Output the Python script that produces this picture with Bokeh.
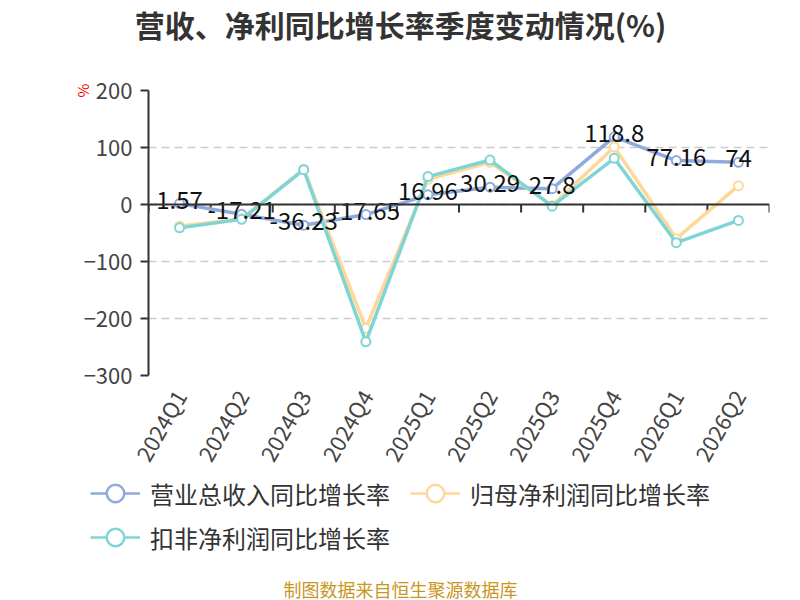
import math
from bokeh.plotting import figure
from bokeh.layouts import column, row
from bokeh.models import (FactorRange, Range1d, Span, Label, Legend, LegendItem,
                          FixedTicker, ColumnDataSource)
from bokeh.embed import file_html
from bokeh.resources import INLINE
from bokeh.core.properties import value

# ---- data ----
quarters = ["2024Q1", "2024Q2", "2024Q3", "2024Q4", "2025Q1", "2025Q2",
            "2025Q3", "2025Q4", "2026Q1", "2026Q2"]
revenue_yoy = [1.57, -17.21, -36.23, -17.65, 16.96, 30.29, 27.8, 118.8, 77.16, 74]
revenue_labels = ["1.57", "-17.21", "-36.23", "-17.65", "16.96", "30.29", "27.8", "118.8", "77.16", "74"]
netprofit_yoy = [-38, -25, 62, -217, 44, 74, -2, 101, -60, 33]
deducted_yoy = [-41, -26, 61, -241, 49, 78, -3, 81, -67, -28]
y_ticks = [-300, -200, -100, 0, 100, 200]
series_names = ["营业总收入同比增长率", "归母净利润同比增长率", "扣非净利润同比增长率"]
title_text = "营收、净利同比增长率季度变动情况(%)"
source_text = "制图数据来自恒生聚源数据库"

colors = ["#8FAADC", "#FFD899", "#7FD5D5"]
FONT = "Noto Sans CJK SC"
W = 800
TOP_H = 80
TOP_OVERLAP = 10
MAIN_TOP, MAIN_FRAME, MAIN_BOTTOM = 20, 285, 104
MAIN_H = MAIN_TOP + MAIN_FRAME + MAIN_BOTTOM
MAIN_OVERLAP = 12
BOT_START = TOP_H - TOP_OVERLAP + MAIN_H - MAIN_OVERLAP
BOT_H = 600 - BOT_START


def blank_fig(h):
    f = figure(width=W, height=h, x_range=Range1d(0, W), y_range=Range1d(0, h),
               output_backend="svg", toolbar_location=None,
               x_axis_location=None, y_axis_location=None, min_border=0)
    f.outline_line_color = None
    f.grid.grid_line_color = None
    f.background_fill_alpha = 0
    f.border_fill_alpha = 0
    return f


# ---- title figure ----
pt = blank_fig(TOP_H)
pt.margin = (0, 0, -TOP_OVERLAP, 0)
pt.add_layout(Label(x=W / 2, y=TOP_H - 23, text=title_text, text_align="center",
                    text_baseline="middle", text_font=FONT, text_font_size="30px",
                    text_font_style="bold", text_color="#333333"))

# ---- main figure ----
p = figure(width=W, height=MAIN_H, x_range=FactorRange(factors=quarters, range_padding=0),
           y_range=Range1d(-300, 200), output_backend="svg", toolbar_location=None,
           min_border_left=148, min_border_right=31, min_border_top=MAIN_TOP,
           min_border_bottom=MAIN_BOTTOM)
p.margin = (0, 0, -MAIN_OVERLAP, 0)
p.outline_line_color = None
p.border_fill_alpha = 0

p.xgrid.grid_line_color = None
p.ygrid.grid_line_color = "#cccccc"
p.ygrid.grid_line_dash = "8 5"
p.ygrid.grid_line_width = 1.5
p.ygrid.ticker = FixedTicker(ticks=y_ticks)

p.yaxis.ticker = FixedTicker(ticks=y_ticks)
p.yaxis.axis_line_color = "#333333"
p.yaxis.axis_line_width = 2
p.yaxis.major_tick_line_color = "#333333"
p.yaxis.major_tick_line_width = 2
p.yaxis.major_tick_out = 8
p.yaxis.major_tick_in = 0
p.yaxis.minor_tick_line_color = None
p.yaxis.major_label_text_font = FONT
p.yaxis.major_label_text_font_size = "22px"
p.yaxis.major_label_text_color = "#444444"
p.yaxis.major_label_standoff = 8
p.yaxis.axis_label = "%"
p.yaxis.axis_label_text_color = "#ff0000"
p.yaxis.axis_label_text_font = FONT
p.yaxis.axis_label_text_font_size = "15px"
p.yaxis.axis_label_text_font_style = "normal"
p.yaxis.axis_label_standoff = -12
ya = p.yaxis[0]
if "axis_label_align" in ya.properties():
    ya.axis_label_align = "end"

p.xaxis.axis_line_color = None
p.xaxis.major_tick_line_color = None
p.xaxis.minor_tick_line_color = None
p.xaxis.major_label_orientation = math.pi / 3
p.xaxis.major_label_text_font = FONT
p.xaxis.major_label_text_font_size = "22px"
p.xaxis.major_label_text_color = "#444444"
p.xaxis.major_label_standoff = 10

p.add_layout(Span(location=0, dimension="width", line_color="#333333", line_width=2))
bounds = list(range(len(quarters) + 1))
p.segment(x0=bounds, y0=[0] * len(bounds), x1=bounds, y1=[-14] * len(bounds),
          line_color="#333333", line_width=2)

for vals, col in zip([revenue_yoy, netprofit_yoy, deducted_yoy], colors):
    src = ColumnDataSource(dict(x=quarters, y=vals))
    p.line("x", "y", source=src, line_color=col, line_width=3.5)
    p.scatter("x", "y", source=src, marker="circle", size=9, line_color=col,
              line_width=2, fill_color="white")

lsrc = ColumnDataSource(dict(x=quarters, y=revenue_yoy, t=revenue_labels))
p.text("x", "y", text="t", source=lsrc, text_align="center", text_baseline="middle",
       y_offset=-4, text_font=value(FONT), text_font_size="24px", text_color="#111111")

# ---- bottom figure: legend + source ----
pb = blank_fig(BOT_H)
leg_r = []
for col in colors:
    lr = pb.line(x=[float("nan")], y=[float("nan")], line_color=col, line_width=2.5)
    sr = pb.scatter(x=[float("nan")], y=[float("nan")], marker="circle", line_color=col,
                    line_width=2.5, fill_color="white")
    leg_r.append([lr, sr])

row1 = 493 - BOT_START   # first row centre, from top of bottom figure
ROW = 44


def mk_legend(items, loc):
    return Legend(items=items, location=loc, orientation="vertical",
                  glyph_width=50, glyph_height=ROW, spacing=0, label_standoff=10,
                  padding=0, margin=0, border_line_color=None, background_fill_alpha=0,
                  label_text_font=FONT, label_text_font_size="24px",
                  label_text_color="#333333", label_height=ROW)


legA = mk_legend([LegendItem(label=series_names[0], renderers=leg_r[0]),
                  LegendItem(label=series_names[2], renderers=leg_r[2])],
                 (90, BOT_H - (row1 - ROW / 2) - 2 * ROW))
legB = mk_legend([LegendItem(label=series_names[1], renderers=leg_r[1])],
                 (410, BOT_H - (row1 - ROW / 2) - ROW))
pb.add_layout(legA)
pb.add_layout(legB)
pb.add_layout(Label(x=W / 2, y=BOT_H - (588 - BOT_START), text=source_text,
                    text_align="center", text_baseline="middle", text_font=FONT,
                    text_font_size="18px", text_color="#C9961E"))

layout = column(row(pt), p, row(pb), spacing=0)
open("out.html", "w").write(file_html(layout, INLINE))
